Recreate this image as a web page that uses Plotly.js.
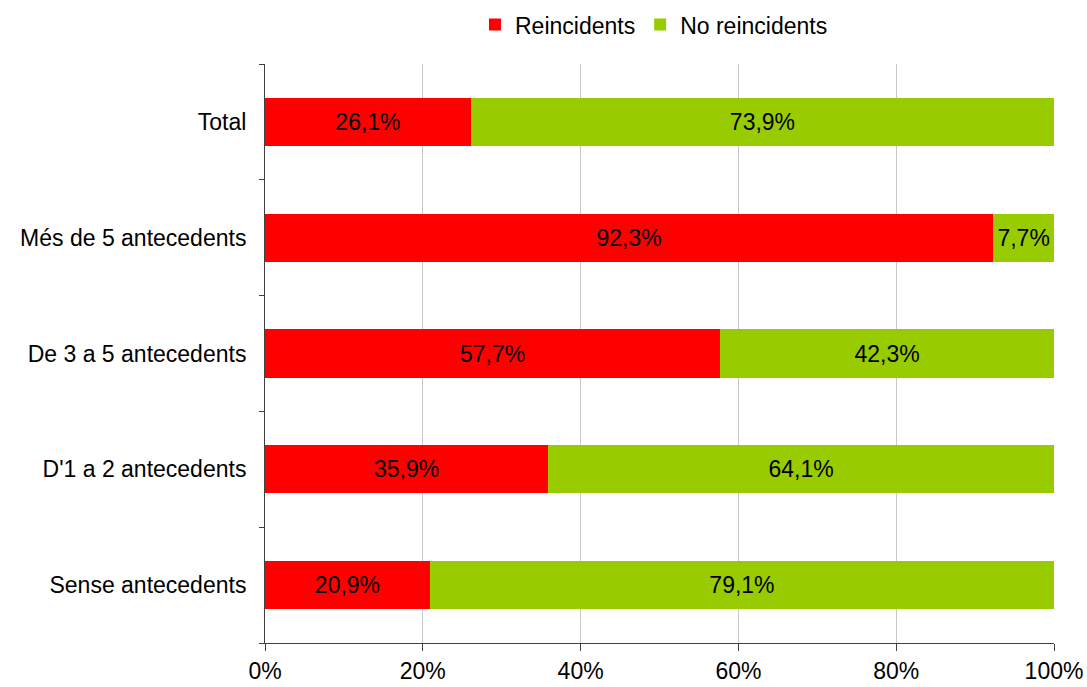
<!DOCTYPE html>
<html>
<head>
<meta charset="utf-8">
<script src="https://cdn.plot.ly/plotly-3.0.1.min.js"></script>
<style>html,body{margin:0;padding:0;background:#fff;}#chart{width:1087px;height:687px;}</style>
</head>
<body>
<div id="chart"></div>
<script>
const categories = ["Total", "Més de 5 antecedents", "De 3 a 5 antecedents", "D'1 a 2 antecedents", "Sense antecedents"];
const reincidents = [26.1, 92.3, 57.7, 35.9, 20.9];
const noReincidents = [73.9, 7.7, 42.3, 64.1, 79.1];
const xTickVals = [0, 20, 40, 60, 80, 100];
const xTickText = ["0%", "20%", "40%", "60%", "80%", "100%"];

const FONT = "Liberation Sans, Arial, sans-serif";
const FS = 23;
const common = {
  type: "bar",
  orientation: "h",
  y: categories,
  width: 0.415,
  textposition: "inside",
  insidetextanchor: "middle",
  texttemplate: "%{x:.1f}%",
  textfont: {family: FONT, size: FS, color: "#000"},
  constraintext: "none",
  hoverinfo: "skip"
};
const data = [
  Object.assign({}, common, {name: "Reincidents", x: reincidents, marker: {color: "#FF0000"}}),
  Object.assign({}, common, {name: "No reincidents", x: noReincidents, marker: {color: "#99CC00"}})
];
const layout = {
  width: 1087, height: 687,
  barmode: "stack",
  separators: ", ",
  paper_bgcolor: "#fff", plot_bgcolor: "#fff",
  font: {family: FONT, size: FS, color: "#000"},
  margin: {l: 265, r: 33, t: 64, b: 44, autoexpand: false},
  showlegend: true,
  legend: {orientation: "h", x: 0.493, xanchor: "center", y: 1.068, yanchor: "middle",
           font: {family: FONT, size: FS, color: "#000"}, traceorder: "normal",
           itemwidth: 30, tracegroupgap: 0},
  xaxis: {range: [0, 100], tickvals: xTickVals, ticktext: xTickText,
          showgrid: true, gridcolor: "#C8C8C8", gridwidth: 1,
          zeroline: false, showline: true, linecolor: "#404040", linewidth: 1,
          ticks: "outside", ticklen: 7, tickcolor: "#404040", fixedrange: true},
  yaxis: {categoryorder: "array", categoryarray: categories.slice().reverse(),
          showline: true, linecolor: "#404040", linewidth: 1,
          ticks: "outside", ticklen: 5, tickcolor: "#404040", tickson: "boundaries",
          showgrid: false, zeroline: false, ticklabelstandoff: 13, fixedrange: true}
};
Plotly.newPlot("chart", data, layout, {displayModeBar: false, staticPlot: true});
</script>
</body>
</html>
